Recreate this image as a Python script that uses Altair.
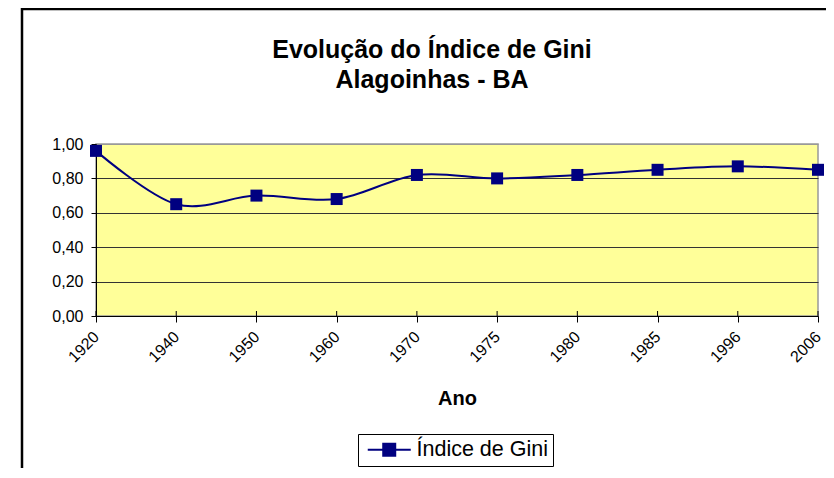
import altair as alt
import pandas as pd

# ---- data ----
anos = ["1920", "1940", "1950", "1960", "1970", "1975", "1980", "1985", "1996", "2006"]
gini = [0.96, 0.65, 0.70, 0.68, 0.82, 0.80, 0.82, 0.85, 0.87, 0.85]
serie = "Índice de Gini"
titulo = ["Evolução do Índice de Gini", "Alagoinhas - BA"]
eixo_x = "Ano"
y_ticks = [0.0, 0.2, 0.4, 0.6, 0.8, 1.0]

df = pd.DataFrame({"Ano": anos, "Gini": gini, "Serie": [serie] * len(anos)})
one = pd.DataFrame({"k": [0]})

W, H = 722, 172
PAD_L, PAD_T, PAD_R, PAD_B = 88, 136, 8, 152
NAVY = "#000080"
FONT = "Liberation Sans"

x_axis = alt.Axis(
    title=eixo_x,
    titleFont=FONT,
    titleFontSize=20,
    titleFontWeight="bold",
    titleColor="black",
    titleBaseline="alphabetic",
    titleY=88,
    labelAngle=-45,
    labelAlign="right",
    labelBaseline="middle",
    labelFont=FONT,
    labelFontSize=16,
    labelColor="black",
    labelPadding=12,
    labelOverlap=False,
    tickSize=6,
    tickColor="black",
    domainColor="black",
    grid=False,
)

y_axis = alt.Axis(
    title=None,
    values=y_ticks,
    labelExpr="replace(format(datum.value, '.2f'), '.', ',')",
    labelFont=FONT,
    labelFontSize=16,
    labelColor="black",
    labelPadding=8,
    labelOverlap=False,
    tickSize=5,
    tickColor="black",
    domainColor="black",
    grid=True,
    gridColor={"condition": {"test": "datum.value >= 1", "value": "#999999"}, "value": "#333333"},
    gridWidth=1,
)

x_enc = alt.X("Ano:O", sort=None, scale=alt.Scale(type="point", padding=0), axis=x_axis)
y_enc = alt.Y("Gini:Q", scale=alt.Scale(domain=[0, 1], nice=False), axis=y_axis)

base = alt.Chart(df)

inner_ticks = base.mark_rule(color="black", strokeWidth=1).encode(
    x=x_enc, y=alt.value(H - 5), y2=alt.value(H)
)

line = base.mark_line(interpolate="cardinal", color=NAVY, strokeWidth=2).encode(
    x=x_enc, y=y_enc
)

points = base.mark_point(shape="square", filled=True, size=144, opacity=1).encode(
    x=x_enc,
    y=y_enc,
    color=alt.Color(
        "Serie:N",
        scale=alt.Scale(range=[NAVY]),
        legend=alt.Legend(
            title=None,
            orient="none",
            legendX=262,
            legendY=290,
            strokeColor="black",
            fillColor="white",
            padding=5,
            symbolType="M-1,0H6.17M1.58,-1H3.58V1H1.58Z",
            symbolSize=144,
            symbolStrokeWidth=2,
            symbolStrokeColor=NAVY,
            symbolFillColor=NAVY,
            symbolOpacity=1,
            labelFont=FONT,
            labelFontSize=21.5,
            labelColor="black",
            labelOffset=32,
        ),
    ),
)

t1 = alt.Chart(one).mark_text(
    font=FONT, fontSize=25, fontWeight="bold", color="black", align="center", baseline="alphabetic"
).encode(x=alt.value(336), y=alt.value(-86), text=alt.value(titulo[0]))
t2 = alt.Chart(one).mark_text(
    font=FONT, fontSize=25, fontWeight="bold", color="black", align="center", baseline="alphabetic"
).encode(x=alt.value(336), y=alt.value(-56), text=alt.value(titulo[1]))

frame_left = alt.Chart(one).mark_rule(color="black", strokeWidth=2.5).encode(
    x=alt.value(-74), y=alt.value(-136), y2=alt.value(H + PAD_B)
)
frame_top = alt.Chart(one).mark_rule(color="black", strokeWidth=2.5).encode(
    x=alt.value(-75), x2=alt.value(W + PAD_R), y=alt.value(-135)
)

chart = (
    alt.layer(line, inner_ticks, points, t1, t2, frame_left, frame_top)
    .properties(
        width=W,
        height=H,
        autosize=alt.AutoSizeParams(type="none"),
        padding={"left": PAD_L, "top": PAD_T, "right": PAD_R, "bottom": PAD_B},
        background="white",
    )
    .configure_view(fill="#FFFF99", stroke="#999999", strokeWidth=1.5)
)

chart.save("out.html", embed_options={"renderer": "svg", "actions": False})
